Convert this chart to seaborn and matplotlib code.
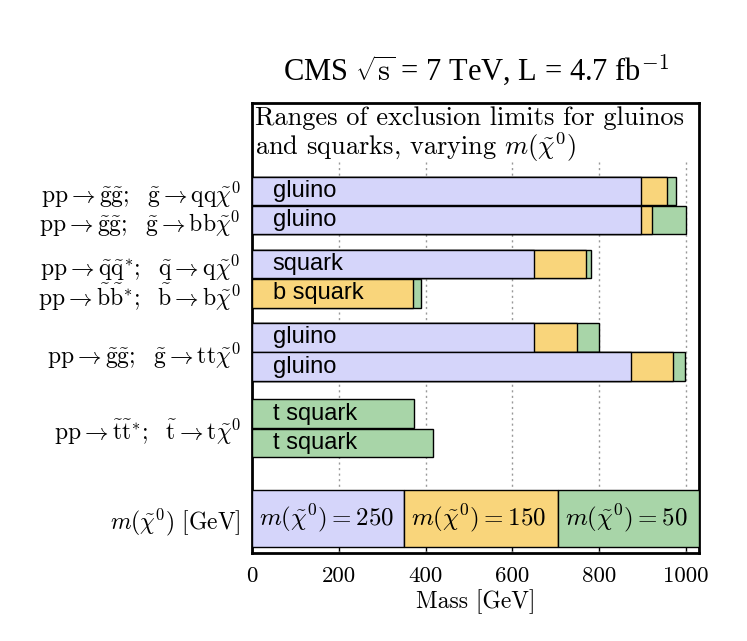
import numpy as np
import pandas as pd
import matplotlib
matplotlib.use("Agg")
import matplotlib.pyplot as plt
import seaborn as sns

# ---- data ----
bar_names = ["gluino", "gluino", "squark", "b squark", "gluino", "gluino", "t squark", "t squark"]
limit_m250 = [897, 897, 650, np.nan, 650, 873, np.nan, np.nan]
limit_m150 = [957, 921, 769, 371, 748, 971, np.nan, np.nan]
limit_m50 = [977, 1000, 781, 390, 800, 998, 373, 416]
process_labels = [
    r"$\mathrm{pp}\rightarrow\tilde{\mathrm{g}}\tilde{\mathrm{g}};\ \ \tilde{\mathrm{g}}\rightarrow\mathrm{qq}\tilde{\chi}^0$",
    r"$\mathrm{pp}\rightarrow\tilde{\mathrm{g}}\tilde{\mathrm{g}};\ \ \tilde{\mathrm{g}}\rightarrow\mathrm{bb}\tilde{\chi}^0$",
    r"$\mathrm{pp}\rightarrow\tilde{\mathrm{q}}\tilde{\mathrm{q}}^{*};\ \ \tilde{\mathrm{q}}\rightarrow\mathrm{q}\tilde{\chi}^0$",
    r"$\mathrm{pp}\rightarrow\tilde{\mathrm{b}}\tilde{\mathrm{b}}^{*};\ \ \tilde{\mathrm{b}}\rightarrow\mathrm{b}\tilde{\chi}^0$",
    r"$\mathrm{pp}\rightarrow\tilde{\mathrm{g}}\tilde{\mathrm{g}};\ \ \tilde{\mathrm{g}}\rightarrow\mathrm{tt}\tilde{\chi}^0$",
    r"$\mathrm{pp}\rightarrow\tilde{\mathrm{t}}\tilde{\mathrm{t}}^{*};\ \ \tilde{\mathrm{t}}\rightarrow\mathrm{t}\tilde{\chi}^0$",
    r"$m(\tilde{\chi}^0)\ [\mathrm{GeV}]$",
]
legend_masses = [250, 150, 50]
legend_edges = [0, 350, 705, 1030]
x_ticks = [0, 200, 400, 600, 800, 1000]

# ---- layout (slot units) ----
row_pos = [3.0, 4.0, 5.5, 6.5, 8.0, 9.0, 10.6, 11.6]
label_pos = [3.0, 4.0, 5.5, 6.5, 8.5, 11.1, 14.18]
legend_y, legend_h = 14.18, 1.95
y_bottom = 15.36

colors = {250: "#d5d5fa", 150: "#f9d57b", 50: "#a8d5a8"}

records = []
for name, p, a, b, c in zip(bar_names, row_pos, limit_m250, limit_m150, limit_m50):
    for m, v in ((250, a), (150, b), (50, c)):
        if not np.isnan(v):
            records.append({"pos": p, "mchi": m, "limit": v})
df = pd.DataFrame(records)

sns.set_style("white")
plt.rcParams["mathtext.fontset"] = "cm"
plt.rcParams["axes.formatter.use_mathtext"] = True
plt.rcParams["text.color"] = "black"
plt.rcParams["xtick.color"] = "black"
plt.rcParams["ytick.color"] = "black"
plt.rcParams["axes.labelcolor"] = "black"

fig = plt.figure(figsize=(7.47, 6.41), dpi=100)
ax = fig.add_axes([252 / 747, 1 - 553 / 641, 447 / 747, 450 / 641])

sns.barplot(data=df, x="limit", y="pos", hue="mchi", hue_order=[50, 150, 250],
            palette=colors, orient="h", native_scale=True, dodge=False,
            width=0.97, errorbar=None, edgecolor="black", linewidth=1.0,
            saturation=1, legend=False, ax=ax, zorder=3)

# gridlines
ax.vlines(x_ticks[1:], 2.0, y_bottom, colors="#999999", linestyles=(0, (1.5, 2.5)),
          linewidth=1.0, zorder=1)

# labels in bars
for name, p in zip(bar_names, row_pos):
    ax.text(48, p, name, va="center", ha="left", fontsize=17,
            family="Liberation Sans", color="black", zorder=5)

# legend bar
for i, m in enumerate(legend_masses):
    ax.barh(legend_y, legend_edges[i + 1] - legend_edges[i], left=legend_edges[i],
            height=legend_h, color=colors[m], edgecolor="black", linewidth=1.0, zorder=4)
    ax.text(legend_edges[i] + 17, legend_y, r"$m(\tilde{\chi}^0) = %d$" % m,
            va="center", ha="left", fontsize=18, zorder=5)

ax.text(0.006, 0.992, "Ranges of exclusion limits for gluinos\nand squarks, varying $m(\\tilde{\\chi}^0)$",
        transform=ax.transAxes, va="top", ha="left", fontsize=19, family="cmr10",
        linespacing=1.0)

ax.set_xlim(0, 1030)
ax.set_ylim(y_bottom, 0)
ax.set_xticks(x_ticks)
ax.set_xticklabels([str(t) for t in x_ticks], family="cmr10", fontsize=16.5)
ax.set_yticks(label_pos)
ax.set_yticklabels(process_labels, fontsize=17)
ax.tick_params(axis="y", length=0, pad=8)
ax.tick_params(axis="x", direction="in", length=6, width=1, pad=10, bottom=True)
ax.set_xlabel("Mass [GeV]", family="cmr10", fontsize=17, labelpad=2)
ax.set_ylabel("")
for s in ax.spines.values():
    s.set_linewidth(2)
    s.set_color("black")

fig.text(476 / 747, 1 - 70 / 641, r"CMS $\sqrt{\mathrm{s}}$ = 7 TeV, L = 4.7 fb$^{\mathrm{-1}}$",
         ha="center", va="center", fontsize=22, family="Liberation Serif")

fig.savefig("out.png", dpi=100)
